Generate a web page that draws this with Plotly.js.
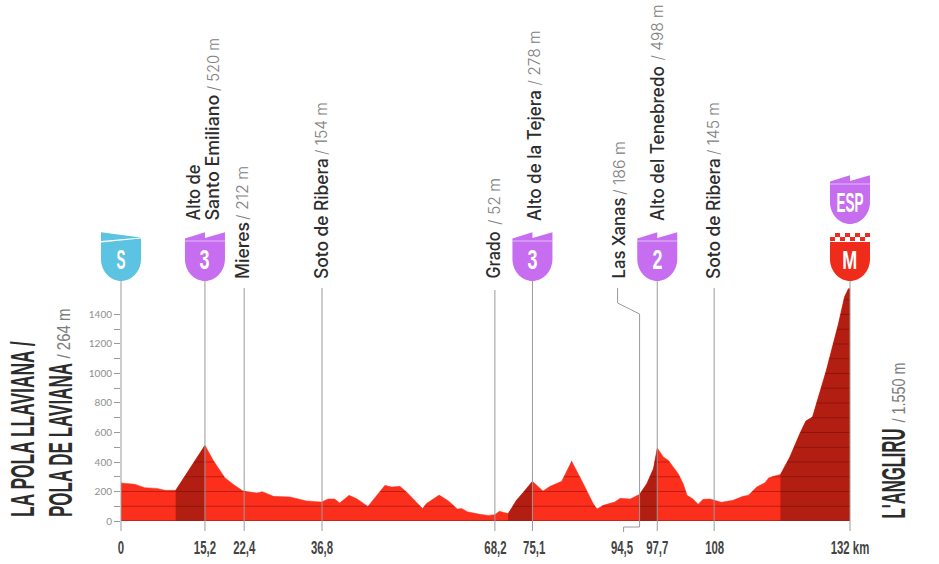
<!DOCTYPE html>
<html>
<head>
<meta charset="utf-8">
<script src="https://cdn.plot.ly/plotly-3.0.1.min.js"></script>
<style>html,body{margin:0;padding:0;background:#fff}#c{width:939px;height:564px}</style>
</head>
<body>
<div id="c"></div>
<script>
const kmPoints = [0,2.5,4.3,6.5,8,9.9,15.2,16.7,18.8,20.3,22.1,24.6,25.6,27.6,30.6,32.1,33.6,36.3,37.5,38.7,39.6,41.3,42.7,44.7,47.8,49,50.5,51.7,52.9,54.6,55.3,57.6,59.3,60.9,61.7,62.7,65,66.5,67.7,68.5,70.1,71.6,72.9,74.5,76.4,77.7,79.8,81.6,83.4,85.5,86.2,87.3,89.4,90.4,92.2,93.9,95.2,96.4,97.1,98.2,99.1,100.9,101.8,102.5,103.5,104.5,105.4,106.6,107.5,108.7,110.8,112.6,113.6,115.1,116.6,117.3,119.4,121.1,122.9,124,125.2,127.7,129.9,131,131.7,132];
const elevPoints = [258,249,226,221,208,208,513,411,294,249,203,190,199,167,163,151,136,129,149,149,122,174,151,99,242,230,235,197,151,84,118,176,136,81,84,63,45,38,43,66,50,140,197,269,203,235,269,405,276,118,81,106,129,154,149,181,253,355,495,434,411,321,253,174,151,113,147,149,140,127,140,167,174,230,260,294,316,434,592,678,705,1021,1338,1519,1575,1575];
const climbRanges = [[9.9,15.2],[70.1,74.5],[93.9,97.1],[119.4,132]];

const xTickKm = [0,15.2,22.3,36.4,67.8,74.8,90.7,97.1,107.5,132];
const xTickLabels = ['0','15,2','22,4','36,8','68,2','75,1','94,5','97,7','108','132 km'];
const yMajor = [0,200,400,600,800,1000,1200,1400];
const yMinor = [100,300,500,700,900,1100,1300];

const stemKm = [0,15.2,22.3,36.4,67.7,74.5,93.9,97.1,107.4,132];
const stemTops = [281,281,288,288,290,281,null,281,288,281];

// place labels: name, height text
const nameTexts = ['Alto de','Santo Emiliano','Mieres','Soto de Ribera','Grado','Alto de la Tejera','Las Xanas','Alto del Tenebredo','Soto de Ribera'];
const heightTexts = ['','/ 520 m','/ 212 m','/ 154 m','/ 52 m','/ 278 m','/ 186 m','/ 498 m','/ 145 m'];
const labelX = [194,213,242,321,494,534,619,657.5,713];
const nameBottom = [223,223,281,281,281,223,281,223,281];
const nameLength = [56,126,57,121,47,131,81,155,121];
const heightBottom = [0,93,222,157,227,88,197,63,157];
const heightLength = [0,53,54,53,47,55,54,56,53];

const kmMax = 132, plotH = 521, plotW = 729, plotL = 121;
const py = y => 1 - y / plotH;
const kmP = k => k / kmMax;
const pxP = x => (x - plotL) / plotW;
const GREY = '#9a9a9a', DARK = '#2c2c2c';
const BOLD = '"Liberation Sans", sans-serif';
const SANS = 'Inter, "Liberation Sans", sans-serif';

const traces = [{
  x: kmPoints, y: elevPoints, type: 'scatter', mode: 'lines', fill: 'tozeroy',
  line: {width: 0.5, color: '#fb3320'}, fillcolor: '#fb2f1c', hoverinfo: 'skip'
}];
climbRanges.forEach(([a, b]) => {
  const idx = kmPoints.map((k, i) => i).filter(i => kmPoints[i] >= a && kmPoints[i] <= b);
  traces.push({
    x: idx.map(i => kmPoints[i]), y: idx.map(i => elevPoints[i]),
    type: 'scatter', mode: 'lines', fill: 'tozeroy',
    line: {width: 0}, fillcolor: '#b21f12', hoverinfo: 'skip'
  });
});
// faint contour rules, clipped to the profile
const ruleX = [], ruleY = [];
for (let lv = 100; lv <= 1500; lv += 100) {
  let open = elevPoints[0] >= lv;
  if (open) { ruleX.push(0); ruleY.push(lv); }
  for (let i = 1; i < kmPoints.length; i++) {
    const a = elevPoints[i - 1], b = elevPoints[i];
    if ((a < lv) !== (b < lv)) {
      const k = kmPoints[i - 1] + (lv - a) / (b - a) * (kmPoints[i] - kmPoints[i - 1]);
      ruleX.push(k); ruleY.push(lv);
      if (open) { ruleX.push(null); ruleY.push(null); }
      open = !open;
    }
  }
  if (open) { ruleX.push(kmMax, null); ruleY.push(lv, null); }
}
traces.push({x: ruleX, y: ruleY, type: 'scatter', mode: 'lines', line: {width: 1, color: 'rgba(90,0,0,0.38)'}, hoverinfo: 'skip'});
traces.push({x: [0, kmMax], y: [0, 0], type: 'scatter', mode: 'lines', line: {width: 1.2, color: '#8d2118'}, hoverinfo: 'skip'});

const shapes = [];
const annos = [];
const fits = [];    // fitted text length in px for each annotation, and where it is held
function addText(t, x, y, length, hold, opts, font) {
  annos.push(Object.assign({xref: 'paper', yref: 'paper', x: x, y: y, text: t, showarrow: false}, opts, {font: font}));
  fits.push({length: length, hold: hold});
}
// stems
stemKm.forEach((k, i) => {
  if (stemTops[i] === null) return;
  shapes.push({type: 'line', xref: 'paper', yref: 'paper', x0: kmP(k), x1: kmP(k), y0: py(531), y1: py(stemTops[i]), line: {color: GREY, width: 1}});
});
// Las Xanas elbow
shapes.push({type: 'path', xref: 'paper', yref: 'paper', xsizemode: 'pixel', ysizemode: 'pixel',
  xanchor: kmP(stemKm[6]), yanchor: py(521),
  path: 'M -22 233 L -22 218 L 0 207 L 0 -6 L -16 -6 L -16 -11', line: {color: GREY, width: 1}});

const pixelShape = (k, bottom, extra) => Object.assign({xref: 'paper', yref: 'paper', xsizemode: 'pixel', ysizemode: 'pixel', xanchor: kmP(k), yanchor: py(bottom)}, extra);
function badge(k, bottom, color, top) {
  const tops = {
    flag: 'M -20 38.5 L 20 42.5 L 20 22',
    zig: 'M -20 42.5 L 0 48.7 L 0 43 L 20 48.7 L 20 22',
    flat: 'M -20 39 L 20 39 L 20 22'
  };
  shapes.push(pixelShape(k, bottom, {type: 'path', fillcolor: color, line: {width: 0},
    path: tops[top] + ' C 20 9 10 0 0 0 C -10 0 -20 9 -20 22 Z'}));
  if (top === 'zig') shapes.push(pixelShape(k, bottom, {type: 'line', x0: -20, x1: 20, y0: 40, y1: 40, line: {color: 'rgba(255,255,255,0.55)', width: 1}}));
}
function badgeText(k, bottom, t, size, length) {
  addText(t, kmP(k), py(bottom - 21), length, 'center', {xanchor: 'center', yanchor: 'middle'},
    {family: BOLD, size: size, color: '#fff', weight: 700});
}
badge(0, 281, '#5cc3e2', 'flag');
shapes.push(pixelShape(0, 281, {type: 'path', fillcolor: '#5cc3e2', line: {width: 0}, path: 'M -20 40 L 20 43.5 L -20 48.7 Z'}));
badgeText(0, 281, 'S', 27, 9);
[[15.2, '3'], [74.5, '3'], [97.1, '2']].forEach(([k, t]) => { badge(k, 281, '#c66df0', 'zig'); badgeText(k, 281, t, 27, 10); });
badge(132, 224, '#c66df0', 'zig'); badgeText(132, 224, 'ESP', 28, 27);
badge(132, 281, '#ef2b1b', 'flat'); badgeText(132, 281, 'M', 26, 15);
for (let row = 0; row < 2; row++) for (let c = 0; c < 8; c++) {
  if ((row + c) % 2) continue;
  const x0 = -20 + c * 5, y0 = 40 + row * 4;
  shapes.push(pixelShape(132, 281, {type: 'rect', x0: x0, x1: x0 + 5, y0: y0, y1: y0 + 4, fillcolor: '#ef2b1b', line: {width: 0}}));
}
// place labels
const rotated = {textangle: -90, xanchor: 'center', yanchor: 'bottom'};
nameTexts.forEach((n, i) => {
  addText(n, pxP(labelX[i]), py(nameBottom[i]), nameLength[i], 'start', rotated,
    {family: SANS, size: 18, color: DARK, weight: 500});
  if (heightTexts[i]) addText(heightTexts[i], pxP(labelX[i]), py(heightBottom[i]), heightLength[i], 'start', rotated,
    {family: SANS, size: 16, color: '#808080', weight: 300});
});
// end titles
const titleFont = {family: BOLD, size: 34, color: DARK, weight: 700};
const thinFont = {family: '"Liberation Sans", sans-serif', size: 19, color: '#7c7c7c', weight: 400};
addText('LA POLA LLAVIANA /', pxP(22), py(519), 176, 'start', rotated, titleFont);
addText('POLA DE LAVIANA', pxP(60), py(519), 154, 'start', rotated, titleFont);
addText('/ 264 m', pxP(64), py(360), 50, 'start', rotated, thinFont);
addText("L'ANGLIRU", pxP(893), py(520.5), 90, 'start', rotated, titleFont);
addText('/ 1.550 m', pxP(899), py(425), 60, 'start', rotated, thinFont);

Plotly.newPlot('c', traces, {
  width: 939, height: 564,
  margin: {l: plotL, r: 89, t: 0, b: 43, pad: 0},
  showlegend: false,
  paper_bgcolor: '#fff', plot_bgcolor: '#fff',
  xaxis: {range: [0, kmMax], tickmode: 'array', tickvals: xTickKm, ticktext: xTickLabels, ticks: '', ticklabelstandoff: 13,
    tickangle: 0, showgrid: false, zeroline: false, showline: false,
    tickfont: {family: BOLD, size: 19, color: '#444444', weight: 700}},
  yaxis: {range: [0, 3532], tickmode: 'array', tickvals: yMajor, ticktext: yMajor.map(String), ticks: 'outside', ticklen: 6, tickwidth: 1, tickcolor: GREY,
    showgrid: false, zeroline: false, showline: false,
    minor: {tickmode: 'array', tickvals: yMinor, ticks: 'outside', ticklen: 6, tickwidth: 1, tickcolor: GREY, showgrid: false},
    tickfont: {family: 'Lato, sans-serif', size: 10, color: '#8e8e8e'}},
  shapes: shapes, annotations: annos
}, {displayModeBar: false, staticPlot: true}).then(() => {
  // no condensed face is installed: narrow the real text along its own direction
  const squeeze = (el, sx, hold) => {
    const b = el.getBBox();
    const ox = hold === 'start' ? b.x : b.x + b.width / 2;
    const old = el.getAttribute('transform') || '';
    el.setAttribute('transform', `${old} translate(${ox},0) scale(${sx},1) translate(${-ox},0)`);
  };
  document.querySelectorAll('.annotation').forEach(a => {
    const i = +a.getAttribute('data-index');
    const el = a.querySelector('text');
    squeeze(el, fits[i].length / el.getBBox().width, fits[i].hold);
  });
  document.querySelectorAll('.xtick text').forEach(el => squeeze(el, 0.6, 'center'));
});
</script>
</body>
</html>
